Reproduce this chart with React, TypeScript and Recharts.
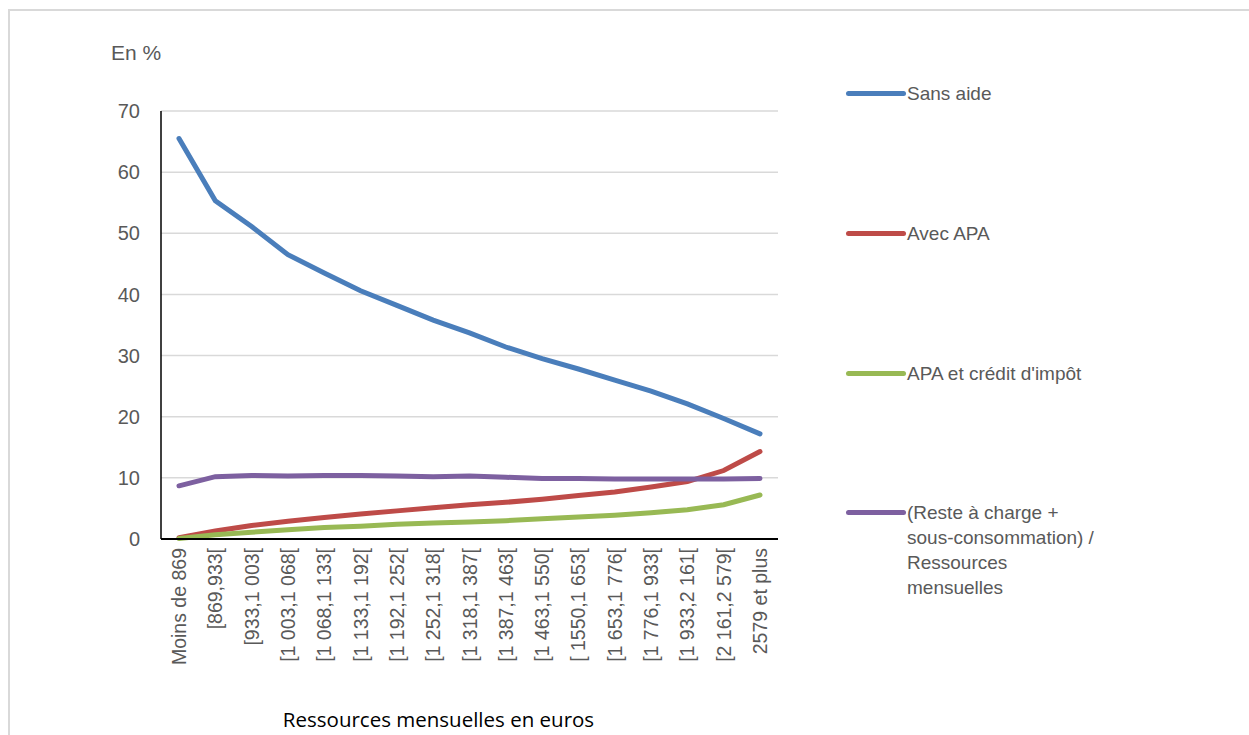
import React from 'react';
import { LineChart, Line, XAxis, YAxis, CartesianGrid } from 'recharts';

const categories = [
  'Moins de 869',
  '[869,933[',
  '[933,1 003[',
  '[1 003,1 068[',
  '[1 068,1 133[',
  '[1 133,1 192[',
  '[1 192,1 252[',
  '[1 252,1 318[',
  '[1 318,1 387[',
  '[1 387,1 463[',
  '[1 463,1 550[',
  '[ 1550,1 653[',
  '[1 653,1 776[',
  '[1 776,1 933[',
  '[1 933,2 161[',
  '[2 161,2 579[',
  '2579 et plus',
];

const sansAide = [65.5, 55.3, 51.1, 46.5, 43.5, 40.6, 38.2, 35.8, 33.7, 31.4, 29.5, 27.8, 26.0, 24.2, 22.1, 19.7, 17.2];
const avecApa = [0.2, 1.3, 2.2, 2.9, 3.5, 4.1, 4.6, 5.1, 5.6, 6.0, 6.5, 7.1, 7.7, 8.5, 9.4, 11.2, 14.3];
const apaCredit = [0.1, 0.7, 1.1, 1.5, 1.9, 2.1, 2.4, 2.6, 2.8, 3.0, 3.3, 3.6, 3.9, 4.3, 4.8, 5.6, 7.2];
const resteCharge = [8.7, 10.2, 10.4, 10.3, 10.4, 10.4, 10.3, 10.2, 10.3, 10.1, 9.9, 9.9, 9.8, 9.8, 9.8, 9.8, 9.9];

const yTicks = [0, 10, 20, 30, 40, 50, 60, 70];

const series = [
  { key: 'sansAide', name: 'Sans aide', color: '#4a7ebb' },
  { key: 'avecApa', name: 'Avec APA', color: '#be4b48' },
  { key: 'apaCredit', name: "APA et crédit d'impôt", color: '#98b954' },
  { key: 'resteCharge', name: '(Reste à charge +\nsous-consommation) /\nRessources\nmensuelles', color: '#7d60a0' },
];

const data = categories.map((name, i) => ({
  name,
  sansAide: sansAide[i],
  avecApa: avecApa[i],
  apaCredit: apaCredit[i],
  resteCharge: resteCharge[i],
}));

const font = '"Liberation Sans", Arial, sans-serif';

const XTick = (props: any) => {
  const { x, y, payload } = props;
  const ty = y + 9;
  return (
    <text
      x={x}
      y={ty}
      transform={`rotate(-90 ${x} ${ty})`}
      textAnchor="end"
      dominantBaseline="central"
      fill="#595959"
      fontSize={19.5}
      fontFamily={font}
    >
      {payload.value}
    </text>
  );
};

const legendTops = [93, 233, 373, 512];

const App = () => {
  return (
    <div style={{ position: 'fixed', left: 0, top: 0, width: 1249, height: 735, overflow: 'hidden', background: '#fff' }}>
      <div
        style={{
          position: 'absolute',
          left: 8,
          top: 9,
          width: 1300,
          height: 800,
          borderTop: '2px solid #d9d9d9',
          borderLeft: '2px solid #d9d9d9',
        }}
      />
      <div style={{ position: 'absolute', left: 0, top: 0 }}>
        <LineChart width={1249} height={735} data={data} margin={{ top: 111, right: 471, left: 101, bottom: 46 }}>
          <CartesianGrid vertical={false} stroke="#d9d9d9" strokeWidth={1.5} />
          <XAxis
            dataKey="name"
            interval={0}
            height={150}
            padding={{ left: 18, right: 18 }}
            tick={<XTick />}
            tickLine={false}
            tickSize={0}
            tickMargin={0}
            axisLine={{ stroke: '#000', strokeWidth: 2 }}
          />
          <YAxis
            width={60}
            domain={[0, 70]}
            ticks={yTicks}
            tickLine={false}
            tickSize={0}
            tickMargin={21}
            axisLine={{ stroke: '#000', strokeWidth: 1.5 }}
            tick={{ fill: '#595959', fontSize: 20, fontFamily: font }}
          />
          {series.map((s) => (
            <Line
              key={s.key}
              type="linear"
              dataKey={s.key}
              name={s.name}
              stroke={s.color}
              strokeWidth={5}
              strokeLinecap="round"
              dot={false}
              isAnimationActive={false}
            />
          ))}
        </LineChart>
      </div>
      <div style={{ position: 'absolute', left: 111, top: 40, fontFamily: font, fontSize: 21, color: '#595959', lineHeight: '26px' }}>
        En %
      </div>
      {series.map((s, i) => (
        <div key={s.key} style={{ position: 'absolute', left: 846, top: legendTops[i] - 12.5 }}>
          <div
            style={{
              position: 'absolute',
              left: 0,
              top: 10,
              width: 60,
              height: 5,
              borderRadius: 3,
              background: s.color,
            }}
          />
          <div
            style={{
              position: 'absolute',
              left: 61,
              top: 0,
              whiteSpace: 'pre',
              fontFamily: font,
              fontSize: 19,
              lineHeight: '25px',
              color: '#595959',
            }}
          >
            {s.name}
          </div>
        </div>
      ))}
      <div
        style={{
          position: 'absolute',
          left: 0,
          width: 877,
          top: 706,
          textAlign: 'center',
          fontFamily: '"Open Sans", sans-serif',
          fontSize: 20.5,
          lineHeight: '26px',
          color: '#000',
        }}
      >
        Ressources mensuelles en euros
      </div>
    </div>
  );
};

export default App;
